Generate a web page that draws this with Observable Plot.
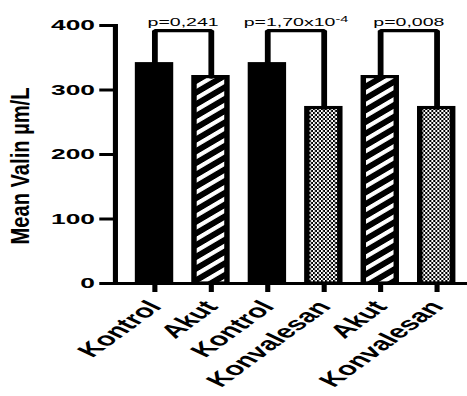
<!DOCTYPE html>
<html><head><meta charset="utf-8">
<script src="https://cdn.jsdelivr.net/npm/d3@7"></script>
<script src="https://cdn.jsdelivr.net/npm/@observablehq/plot@0.6"></script>
<style>html,body{margin:0;padding:0;background:#fff;} #chart{width:467px;height:396px;overflow:hidden;}</style>
</head><body><div id="chart"></div>
<script>
// ---- data ----
const categories = ["Kontrol", "Akut", "Kontrol", "Konvalesan", "Akut", "Konvalesan"];
const values = [340, 320, 340, 272, 320, 272];
const comparisons = [[0, 1], [2, 3], [4, 5]];
const pLabels = ["p=0,241", "p=1,70x10^-4", "p=0,008"];
const yTicks = [0, 100, 200, 300, 400];
const bracketLevel = 392;
const yTitle = "Mean Valin µm/L";

// ---- layout / style ----
const W = 467, H = 396;
const SX = 1.7;            // horizontal stretch of the original picture
const w = W / SX;
const FONT = "'Liberation Sans', Arial, Helvetica, sans-serif";
const fills = {Kontrol: "black", Akut: "url(#stripes)", Konvalesan: "url(#checker)"};

const bars = categories.map((c, i) => ({i, c, v: values[i]}));
const bracketPts = comparisons.flatMap(([a, b], k) => [
  {k, i: a, v: values[a]}, {k, i: a, v: bracketLevel},
  {k, i: b, v: bracketLevel}, {k, i: b, v: values[b]}
]);
const pData = comparisons.map(([a, b], k) => ({i: a, label: pLabels[k].replace("^", "")}));

const xOpts = {type: "band", domain: d3.range(categories.length), range: [67.4, 279.8],
  paddingInner: 0.416, paddingOuter: 0.407, round: false};
const xs = Plot.scale({x: xOpts});
const half = (xs.apply(1) - xs.apply(0)) / 2;

const svg = Plot.plot({
  width: w, height: H,
  marginLeft: 67.4, marginRight: 0, marginTop: 25, marginBottom: 113,
  style: {fontFamily: FONT, fontSize: "11px", color: "black", background: "white", overflow: "visible"},
  x: {...xOpts, label: null, axis: null},
  y: {domain: [0, 400], label: null, axis: null},
  color: {type: "identity"},
  marks: [
    Plot.barY(bars, {x: "i", y: "v", fill: d => fills[d.c], stroke: "black", strokeWidth: 3.2}),
    Plot.line(bracketPts, {x: "i", y: "v", z: "k", stroke: "black", strokeWidth: 3.4, strokeLinejoin: "miter"}),
    Plot.text(pData, {x: "i", y: () => bracketLevel, text: "label", dx: half, dy: -5, lineAnchor: "bottom", fontSize: 11.5, fill: "black"}),
    Plot.axisY({ticks: yTicks, tickSize: 9, tickPadding: 3, strokeWidth: 3, fontSize: 15.5, fontWeight: "bold", label: null, fill: "black"}),
    Plot.axisX({tickFormat: i => categories[i], tickRotate: -51, tickSize: 9, tickPadding: 11, strokeWidth: 3, fontSize: 18.5, fontWeight: "bold", label: null, fill: "black"}),
    Plot.frame({anchor: "left", strokeWidth: 3, stroke: "black"}),
    Plot.ruleY([0], {strokeWidth: 3, stroke: "black"}),
    Plot.text([yTitle], {text: d => d, frameAnchor: "left", textAnchor: "middle", rotate: -90, dx: -55.6, dy: 11.5, fontSize: 15, fontWeight: "bold", fill: "black"})
  ]
});

// stretch horizontally like the original picture
svg.setAttribute("width", W);
svg.setAttribute("height", H);
svg.setAttribute("viewBox", `0 0 ${w} ${H}`);
svg.setAttribute("preserveAspectRatio", "none");
svg.style.maxWidth = "none";
svg.style.width = W + "px";
svg.style.height = H + "px";

// fill patterns
const defs = d3.select(svg).insert("defs", ":first-child");
const st = defs.append("pattern").attr("id", "stripes").attr("patternUnits", "userSpaceOnUse")
  .attr("width", 8.3).attr("height", 8.3).attr("patternTransform", "rotate(-45)");
st.append("rect").attr("width", 8.3).attr("height", 8.3).attr("fill", "black");
st.append("rect").attr("width", 8.3).attr("height", 3.4).attr("fill", "white");
const ch = defs.append("pattern").attr("id", "checker").attr("patternUnits", "userSpaceOnUse")
  .attr("width", 2.36).attr("height", 4);
ch.append("rect").attr("width", 2.36).attr("height", 4).attr("fill", "white");
ch.append("rect").attr("width", 1.18).attr("height", 2).attr("fill", "black");
ch.append("rect").attr("x", 1.18).attr("y", 2).attr("width", 1.18).attr("height", 2).attr("fill", "black");

// y title condensed to its length, superscript exponent
d3.select(svg).selectAll("text").each(function() {
  const t = d3.select(this);
  const s = this.textContent;
  if (s === yTitle) t.attr("textLength", 157).attr("lengthAdjust", "spacingAndGlyphs");
  const sup = pLabels.find(p => p.includes("^"));
  if (sup && s === sup.replace("^", "")) {
    const [base, exp] = sup.split("^");
    t.text(base);
    t.append("tspan").attr("dy", "-0.45em").attr("font-size", "8.5px").text(exp);
  }
});

document.getElementById("chart").appendChild(svg);
</script>
</body></html>
